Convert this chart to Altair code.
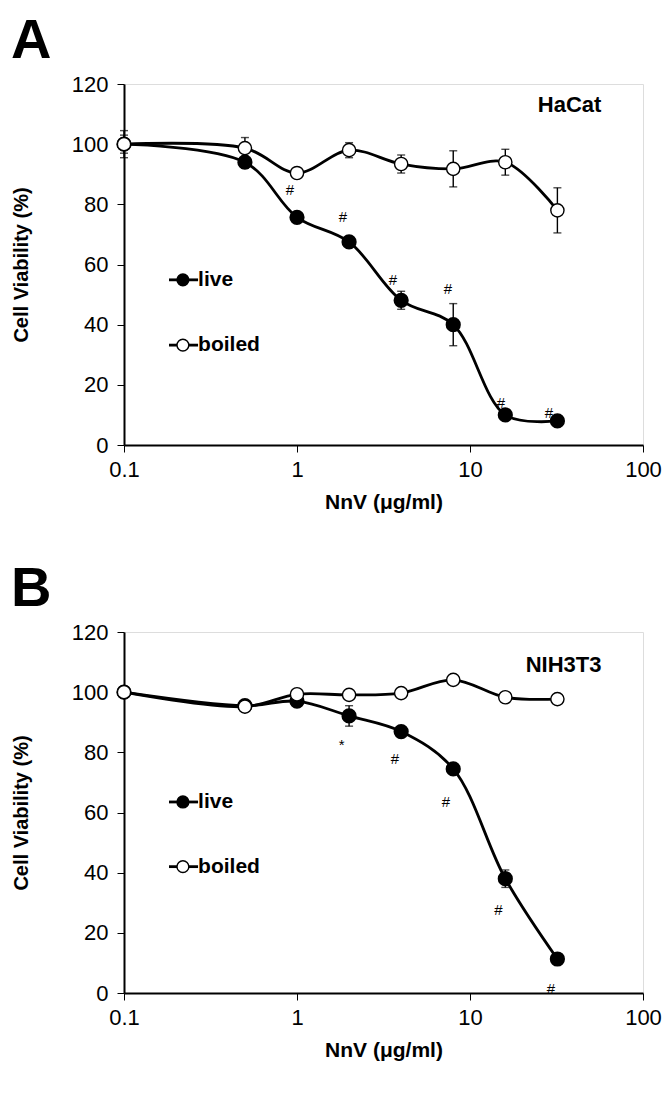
import altair as alt
import pandas as pd

# ---------------- data ----------------
conc = [0.1, 0.5, 1, 2, 4, 8, 16, 32]

a_live = [100, 94.0, 75.7, 67.5, 48.1, 40.0, 10.0, 8.0]
a_live_err = [3.0, 2.0, 1.0, 1.0, 3.0, 7.0, 1.5, 0.5]
a_boiled = [100, 98.7, 90.4, 98.0, 93.4, 91.8, 94.0, 78.0]
a_boiled_err = [4.5, 3.5, 1.0, 2.5, 3.0, 6.0, 4.3, 7.5]
a_ann_x = [0.91, 1.84, 3.59, 7.46, 15.1, 28.6]
a_ann_y = [84.8, 75.8, 54.9, 51.9, 14.0, 10.6]
a_ann_t = ["#", "#", "#", "#", "#", "#"]

b_live = [100, 95.5, 97.0, 92.1, 86.9, 74.5, 38.0, 11.3]
b_live_err = [0.5, 1.5, 1.0, 3.4, 1.0, 1.0, 2.9, 1.0]
b_boiled = [100, 95.2, 99.3, 99.1, 99.7, 104.1, 98.3, 97.7]
b_boiled_err = [1.0, 1.5, 1.0, 1.0, 1.0, 1.0, 1.0, 1.0]
b_ann_x = [1.81, 3.68, 7.27, 14.6, 29.4]
b_ann_y = [82.3, 77.8, 63.4, 27.5, 1.3]
b_ann_t = ["*", "#", "#", "#", "#"]

series_names = ["live", "boiled"]
legend_x = 0.219
legend_x0 = 0.182
legend_x1 = 0.268
a_legend_y = [54.9, 33.2]
b_legend_y = [63.5, 42.0]

x_ticks = [0.1, 1, 10, 100]
y_ticks = [0, 20, 40, 60, 80, 100, 120]
x_title = "NnV (μg/ml)"
y_title = "Cell Viability (%)"

FONT = "Liberation Sans"


def panel(letter, cell, cell_y, live, live_err, boiled, boiled_err,
          ann_x, ann_y, ann_t, legend_y):
    xscale = alt.Scale(type="log", domain=[0.1, 100], nice=False)
    yscale = alt.Scale(domain=[0, 120], nice=False, zero=False)
    xaxis = alt.Axis(title=x_title, values=x_ticks, format="~g", grid=False,
                     labelFontSize=22, labelFont=FONT, labelColor="black",
                     titleFontSize=21, titleFont=FONT, titleFontWeight="bold",
                     titleColor="black", tickSize=7, tickColor="black",
                     domainColor="black", domainWidth=2, labelPadding=7,
                     titlePadding=11, labelFlush=False)
    yaxis = alt.Axis(title=y_title, values=y_ticks, grid=False,
                     labelFontSize=22, labelFont=FONT, labelColor="black",
                     titleFontSize=20, titleFont=FONT, titleFontWeight="bold",
                     titleColor="black", tickSize=7, tickColor="black",
                     domainColor="black", domainWidth=2, labelPadding=9,
                     titlePadding=40)

    def X(f):
        return alt.X(f, type="quantitative", scale=xscale, axis=xaxis)

    def Y(f):
        return alt.Y(f, type="quantitative", scale=yscale, axis=yaxis)

    live_df = pd.DataFrame({"x": conc, "y": live,
                            "lo": [v - e for v, e in zip(live, live_err)],
                            "hi": [v + e for v, e in zip(live, live_err)]})
    boil_df = pd.DataFrame({"x": conc, "y": boiled,
                            "lo": [v - e for v, e in zip(boiled, boiled_err)],
                            "hi": [v + e for v, e in zip(boiled, boiled_err)]})
    ann_df = pd.DataFrame({"x": ann_x, "y": ann_y, "t": ann_t})
    leg_df = pd.DataFrame({"x": [legend_x] * 2, "x0": [legend_x0] * 2,
                           "x1": [legend_x1] * 2, "y": legend_y,
                           "name": series_names})
    cell_df = pd.DataFrame({"x": [57.5], "y": [cell_y], "t": [cell]})
    letter_df = pd.DataFrame({"t": [letter]})

    layers = []
    for df in (live_df, boil_df):
        base = alt.Chart(df)
        layers.append(base.mark_line(interpolate="catmull-rom", color="black",
                                     strokeWidth=2.8).encode(x=X("x"), y=Y("y")))
        layers.append(base.mark_rule(color="black", strokeWidth=1.4).encode(
            x=X("x"), y=Y("lo"), y2="hi"))
        layers.append(base.mark_tick(orient="horizontal", color="black",
                                     size=8, thickness=1.4).encode(x=X("x"), y=Y("lo")))
        layers.append(base.mark_tick(orient="horizontal", color="black",
                                     size=8, thickness=1.4).encode(x=X("x"), y=Y("hi")))
    # points: live first, boiled on top
    layers.append(alt.Chart(live_df).mark_point(
        filled=True, fill="black", stroke="black", size=175, opacity=1,
        shape="circle").encode(x=X("x"), y=Y("y")))
    layers.append(alt.Chart(boil_df).mark_point(
        filled=True, fill="white", stroke="black", strokeWidth=1.4, size=175,
        opacity=1, shape="circle").encode(x=X("x"), y=Y("y")))
    # significance marks
    layers.append(alt.Chart(ann_df).mark_text(
        font=FONT, fontSize=15, color="black", align="center",
        baseline="middle").encode(x=X("x"), y=Y("y"), text="t:N"))
    # legend
    leg = alt.Chart(leg_df)
    layers.append(leg.mark_rule(color="black", strokeWidth=2.8).encode(
        x=X("x0"), x2="x1", y=Y("y")))
    layers.append(leg.mark_point(filled=True, size=140, stroke="black",
                                 strokeWidth=1.4, opacity=1, shape="circle").encode(
        x=X("x"), y=Y("y"),
        fill=alt.Fill("name:N", scale=alt.Scale(domain=series_names,
                                                range=["black", "white"]),
                      legend=None)))
    layers.append(leg.mark_text(font=FONT, fontSize=21, fontWeight="bold",
                                color="black", align="left", baseline="middle",
                                dx=0).encode(x=X("x1"), y=Y("y"), text="name:N"))
    # cell line label
    layers.append(alt.Chart(cell_df).mark_text(
        font=FONT, fontSize=22, fontWeight="bold", color="black",
        align="right", baseline="middle").encode(x=X("x"), y=Y("y"), text="t:N"))
    # panel letter
    layers.append(alt.Chart(letter_df).mark_text(
        font=FONT, fontSize=56, fontWeight="bold", color="black",
        align="left", baseline="alphabetic").encode(
        x=alt.value(-113), y=alt.value(-26), text="t:N"))

    return alt.layer(*layers).properties(width=519, height=361)


pa = panel("A", "HaCat", 113, a_live, a_live_err, a_boiled, a_boiled_err,
           a_ann_x, a_ann_y, a_ann_t, a_legend_y)
pb = panel("B", "NIH3T3", 109, b_live, b_live_err, b_boiled, b_boiled_err,
           b_ann_x, b_ann_y, b_ann_t, b_legend_y)

chart = alt.vconcat(pa, pb, spacing=47).properties(
    padding={"left": 2, "top": 4, "right": 0, "bottom": 0}).configure_view(
    stroke="black", strokeWidth=2).configure(font=FONT, background="white")

chart.save("out.html", embed_options={"renderer": "svg", "actions": False})
